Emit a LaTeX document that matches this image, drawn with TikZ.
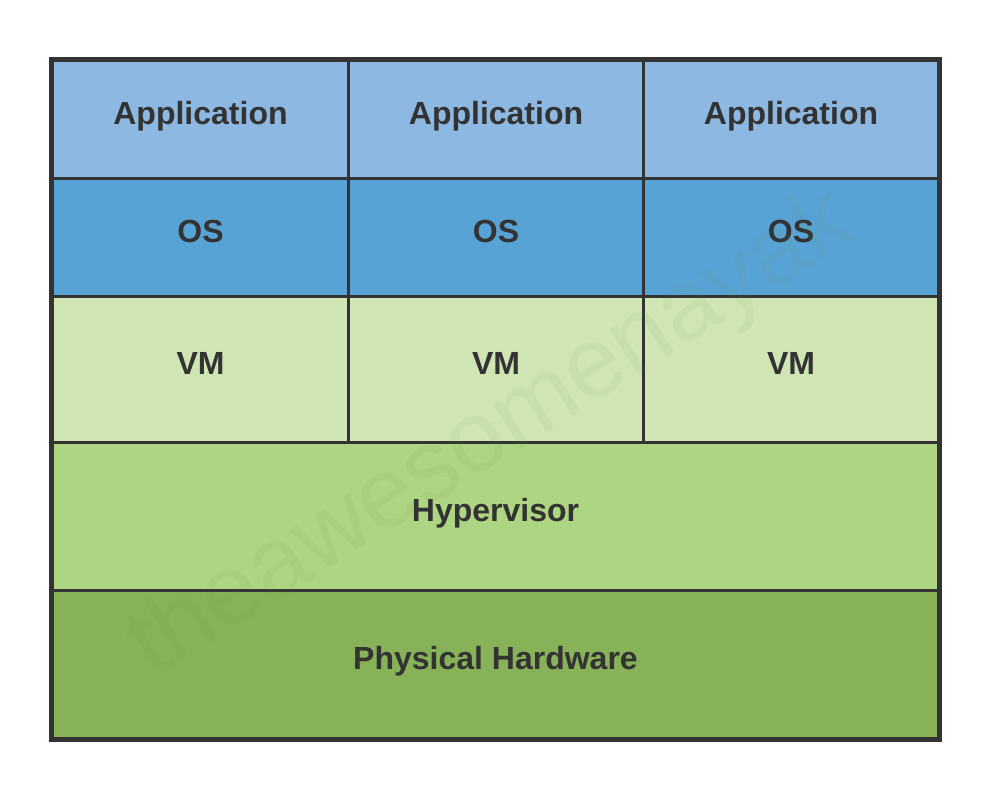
\documentclass[tikz,border=0pt]{standalone}
\usepackage{fontspec}
\setmainfont{Liberation Sans}
\definecolor{appc}{HTML}{8DB8E1}
\definecolor{osc}{HTML}{57A3D6}
\definecolor{vmc}{HTML}{CFE6B4}
\definecolor{hypc}{HTML}{AED581}
\definecolor{hwc}{HTML}{88B257}
\definecolor{linec}{HTML}{333333}
\definecolor{txtc}{HTML}{333333}
\definecolor{wmc}{HTML}{5A8A3A}
\begin{document}
\begin{tikzpicture}[x=1pt,y=-1pt,
  cell/.style={draw=linec,line width=3pt,minimum width=#1,inner sep=0pt,
    text height=24pt,text depth=14pt,
    font=\fontsize{32}{36}\selectfont\bfseries,text=txtc,anchor=north west},
]
\useasboundingbox[fill=white] (0,0) rectangle (1000,797);
% Applications
\node[cell, fill=appc, minimum width=296pt, minimum height=118pt] (a1) at (51,59) {Application};
\node[cell, fill=appc, minimum width=295pt, minimum height=118pt] (a2) at (347,59) {Application};
\node[cell, fill=appc, minimum width=295pt, minimum height=118pt] (a3) at (642,59) {Application};
% OS
\node[cell, fill=osc, minimum width=296pt, minimum height=118pt] (o1) at (51,177) {OS};
\node[cell, fill=osc, minimum width=295pt, minimum height=118pt] (o2) at (347,177) {OS};
\node[cell, fill=osc, minimum width=295pt, minimum height=118pt] (o3) at (642,177) {OS};
% VM
\node[cell, fill=vmc, minimum width=296pt, minimum height=146pt] (v1) at (51,295) {VM};
\node[cell, fill=vmc, minimum width=295pt, minimum height=146pt] (v2) at (347,295) {VM};
\node[cell, fill=vmc, minimum width=295pt, minimum height=146pt] (v3) at (642,295) {VM};
% Hypervisor and hardware
\node[cell, fill=hypc, minimum width=886pt, minimum height=148pt] (hyp) at (51,441) {Hypervisor};
\node[cell, fill=hwc, minimum width=886pt, minimum height=148pt] (hw) at (51,589) {Physical Hardware};
% watermark
\node[rotate=32, text=wmc, text opacity=0.07, font=\fontsize{100}{110}\selectfont] (wm) at (492,436) {theawesomenayak};
% outer frame
\draw[linec, line width=4pt] (a1.north west) rectangle (hw.south east);
\end{tikzpicture}
\end{document}
